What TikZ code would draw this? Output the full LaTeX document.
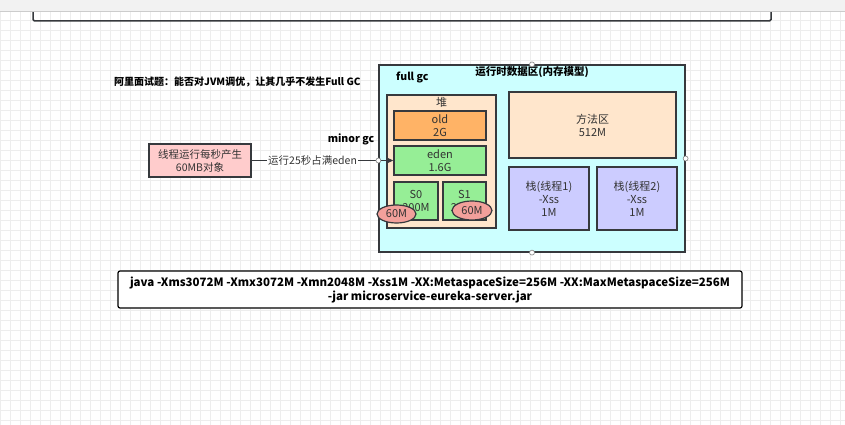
\documentclass[tikz,border=0pt]{standalone}
\usepackage{fontspec}
\setmainfont{Noto Sans CJK SC}
\usetikzlibrary{arrows.meta,shapes.geometric}
\definecolor{cyanbg}{HTML}{CCFFFF}
\definecolor{peach}{HTML}{FFE6CC}
\definecolor{oldorange}{HTML}{FFB366}
\definecolor{edengreen}{HTML}{96EE96}
\definecolor{lav}{HTML}{CCCCFF}
\definecolor{pinkbox}{HTML}{FFCCCC}
\definecolor{salmon}{HTML}{F2A09B}
\definecolor{edge}{HTML}{36393D}
\definecolor{txt}{HTML}{333333}
\begin{document}
\begin{tikzpicture}[x=1pt,y=-1pt,
  box/.style={draw=edge, line width=1.2pt, rectangle, inner sep=0pt, align=center, text=txt, font=\fontsize{11}{13}\selectfont},
  oval/.style={draw=edge, line width=1.2pt, ellipse, inner sep=0pt, fill=salmon, text=txt, font=\fontsize{11}{13}\selectfont},
  handle/.style={draw=gray, fill=white, circle, inner sep=0pt, minimum size=5pt, line width=0.6pt},
  boldlbl/.style={font=\bfseries\fontsize{10.5}{13}\selectfont, text=black, inner sep=0pt}
]
\useasboundingbox (0,0) rectangle (845,425);
\fill[white] (0,0) rectangle (845,425);
% grid
\foreach \i in {0,10,...,840} {\draw[black!7, line width=0.4pt] (\i,0) -- (\i,425);}
\foreach \j in {0,10,...,420} {\draw[black!7, line width=0.4pt] (0,\j) -- (845,\j);}
% top partial box
\draw[edge, line width=1.5pt, rounded corners=1.5pt] (33,-10) rectangle (771,21);
% toolbar strip
\fill[black!5] (0,0) rectangle (845,11);
\draw[black!20] (0,11) -- (845,11);
% title
\node[boldlbl, font=\bfseries\fontsize{10}{13}\selectfont, anchor=west] (title) at (114,82) {阿里面试题：能否对JVM调优，让其几乎不发生Full GC};
% outer region
\node[box, fill=cyanbg, minimum width=306pt, minimum height=187pt] (outer) at (532,158.5) {};
\node[font=\bfseries\fontsize{10.5}{13}\selectfont, inner sep=0pt] (outertitle) at (532,72) {运行时数据区(内存模型)};
\node[boldlbl, anchor=west] (fullgc) at (396,77) {full gc};
% heap
\node[box, fill=peach, minimum width=109pt, minimum height=133pt] (heap) at (441.5,161.5) {};
\node[text=txt, font=\fontsize{11}{13}\selectfont, inner sep=0pt] (heaplbl) at (441.5,102) {堆};
\node[box, fill=oldorange, minimum width=92pt, minimum height=29pt] (old) at (440,125.5) {old\\2G};
\node[box, fill=edengreen, minimum width=92pt, minimum height=29pt] (eden) at (440,160.5) {eden\\1.6G};
\node[box, fill=edengreen, minimum width=44pt, minimum height=38pt] (s0) at (416,201) {S0\\200M};
\node[box, fill=edengreen, minimum width=43pt, minimum height=38pt] (s1) at (464.5,201) {S1\\200M};
\node[oval, minimum width=39pt, minimum height=18pt] (o1) at (396.5,214) {60M};
\node[oval, minimum width=40pt, minimum height=19pt] (o2) at (472,210.5) {60M};
% method area and stacks
\node[box, fill=peach, minimum width=167pt, minimum height=66pt] (method) at (592.5,125) {方法区\\512M};
\node[box, fill=lav, minimum width=80pt, minimum height=63pt] (stack1) at (549,198.5) {栈(线程1)\\-Xss\\1M};
\node[box, fill=lav, minimum width=80pt, minimum height=63pt] (stack2) at (637,198.5) {栈(线程2)\\-Xss\\1M};
% thread box
\node[box, fill=pinkbox, minimum width=102pt, minimum height=33pt, font=\fontsize{10.5}{13}\selectfont] (thread) at (200,160.5) {线程运行每秒产生\\60MB对象};
\node[boldlbl] (minorgc) at (351,139) {minor gc};
\draw[edge, line width=1.2pt, -{Triangle[length=6pt,width=5pt]}] (thread.east) -- (eden.west)
  node[pos=0.43, fill=white, inner sep=1pt, text=txt, font=\fontsize{10.5}{13}\selectfont] {运行25秒占满eden};
\coordinate (hl) at (outer.west |- eden.west);
\node[handle] (h1) at (hl) {};
\node[handle] (h2) at (outer.north) {};
\node[handle] (h3) at (outer.east) {};
\node[handle] (h4) at (outer.south) {};
% command box
\node[box, draw=black, fill=white, rounded corners=2pt, minimum width=624pt, minimum height=37pt, text=black, font=\bfseries\fontsize{11.5}{14}\selectfont] (cmd) at (430,289.5) {java -Xms3072M -Xmx3072M -Xmn2048M -Xss1M -XX:MetaspaceSize=256M -XX:MaxMetaspaceSize=256M\\-jar microservice-eureka-server.jar};
\end{tikzpicture}
\end{document}
